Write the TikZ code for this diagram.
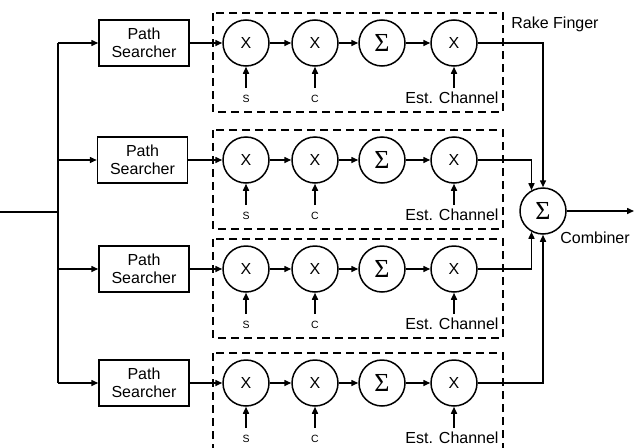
\documentclass[tikz,border=0pt]{standalone}
\usepackage{fontspec}
\setmainfont{Liberation Sans}
\newfontfamily\serifgr{Liberation Serif}
\usetikzlibrary{arrows.meta}
\begin{document}
\begin{tikzpicture}[x=1pt,y=-1pt, line width=1.5pt,
  >={Triangle[length=7pt,width=6pt]},
  every node/.style={font=\fontsize{16}{18}\selectfont},
  ps/.style={draw, minimum width=90pt, minimum height=46pt, inner sep=0pt, align=center},
  op/.style={draw, circle, minimum size=46pt, inner sep=0pt},
  sigmatext/.style={font=\serifgr\fontsize{26}{26}\selectfont},
  small/.style={font=\fontsize{10.5}{12}\selectfont},
  finger/.style={draw, dash pattern=on 8pt off 5pt, line width=1.5pt}]
\useasboundingbox (0,0) rectangle (636,447);
\foreach \i/\y/\px in {1/43/144,2/160/142.5,3/269/144,4/383/144} {
  \draw[finger] (213,\y-30) rectangle (503,\y+69);
  \node[ps] (ps\i) at (\px,\y) {Path\\Searcher};
  \node[op] (a\i) at (246,\y) {X};
  \node[op] (b\i) at (315,\y) {X};
  \node[op,sigmatext] (c\i) at (382,\y) {Σ};
  \node[op] (d\i) at (454,\y) {X};
  \node[small] (sl\i) at (246,\y+56) {S};
  \node[small] (cl\i) at (315,\y+56) {C};
  \node (el\i) at (452,\y+55) {Est. Channel};
  \coordinate (bus\i) at (58,\y);
  \coordinate (sa\i) at (246,\y+45);
  \coordinate (ca\i) at (315,\y+45);
  \coordinate (ea\i) at (454,\y+45);
  \draw[->] (bus\i) -- (ps\i.west);
  \draw[->] (ps\i.east) -- (a\i.west);
  \draw[->] (a\i) -- (b\i);
  \draw[->] (b\i) -- (c\i);
  \draw[->] (c\i) -- (d\i);
  \draw[->] (sa\i) -- (a\i.south);
  \draw[->] (ca\i) -- (b\i.south);
  \draw[->] (ea\i) -- (d\i.south);
}
\coordinate (in) at (0,212);
\coordinate (busin) at (58,212);
\draw (in) -- (busin);
\draw (bus1) -- (bus4);
\node[op,sigmatext] (comb) at (543,211) {Σ};
\node (combl) at (595,238) {Combiner};
\node (rake) at (555,24) {Rake Finger};
\coordinate (out) at (634,211);
\draw[->] (comb) -- (out);
\draw[->] (d1.east) -| (comb.north);
\draw[->] (d2.east) -| (comb.119);
\draw[->] (d3.east) -| (comb.241);
\draw[->] (d4.east) -| (comb.south);
\end{tikzpicture}
\end{document}
